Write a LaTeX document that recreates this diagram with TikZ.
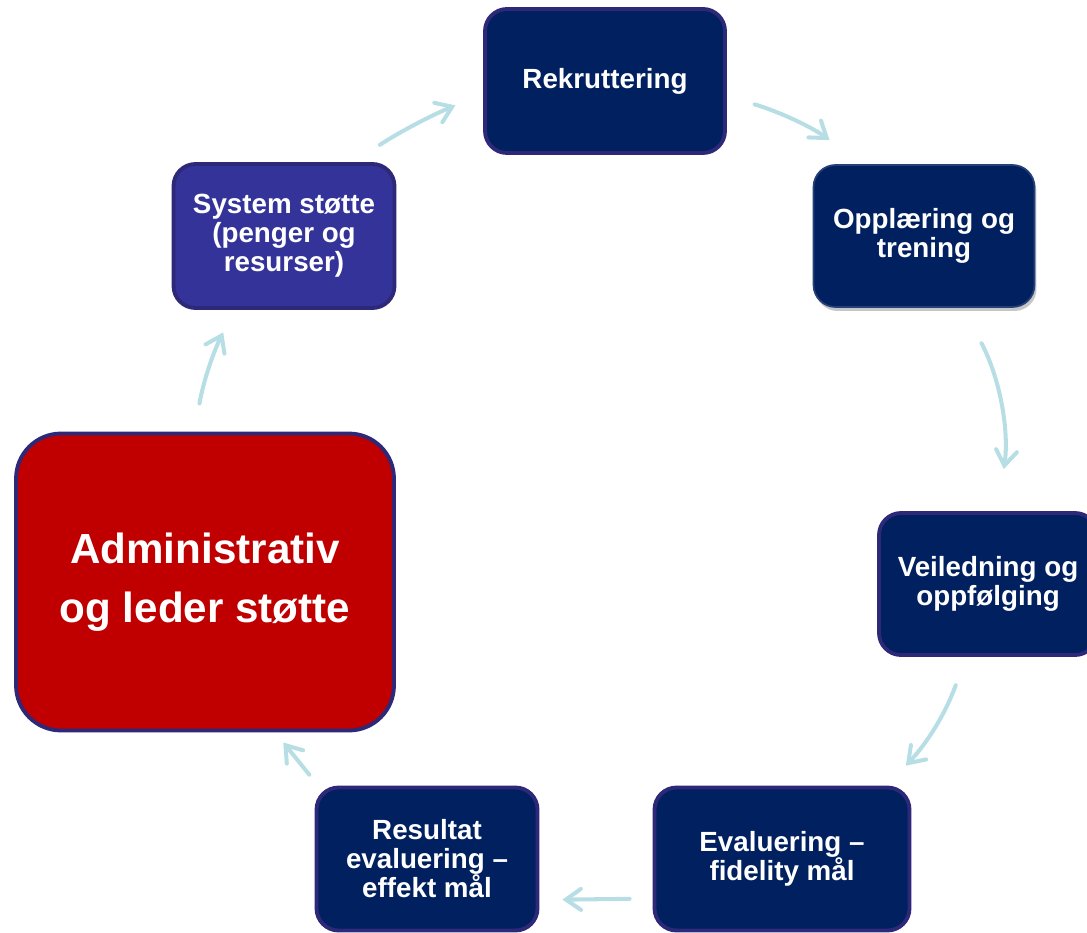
\documentclass[tikz,border=0pt]{standalone}
\usepackage{fontspec}
\setmainfont{Liberation Sans}
\usetikzlibrary{arrows.meta,shadows}
\definecolor{navy}{RGB}{0,32,96}
\definecolor{rim}{RGB}{46,40,120}
\definecolor{sysblue}{RGB}{51,51,153}
\definecolor{admred}{RGB}{192,0,0}
\definecolor{pale}{RGB}{183,222,228}
\tikzset{
  blk/.style={draw=rim, line width=2.2pt, fill=navy, rounded corners=0.44cm,
    text=white, align=center, inner sep=0pt,
    font=\bfseries\fontsize{15.8}{16.5}\selectfont},
  arr/.style={draw=pale, line width=2.3pt, line cap=round,
    -{Straight Barb[length=0.3cm,width=0.42cm,line cap=round]}}
}

\begin{document}
\begin{tikzpicture}[x=0.02cm,y=-0.02cm]
    \useasboundingbox (0,0) rectangle (1087,932);
    \clip (0,0) rectangle (1087,932);
    % boxes, clockwise from the top
    \node[blk, minimum width=4.8cm, minimum height=2.88cm] (rek) at (605,81) {Rekruttering};
    \node[blk, draw=navy!85!white, line width=1pt, minimum width=4.42cm, minimum height=2.84cm,
      drop shadow={shadow xshift=0.04cm, shadow yshift=-0.08cm, opacity=0.45}] (opp) at (924,236) {Opplæring og\\trening};
    \node[blk, minimum width=4.36cm, minimum height=2.84cm] (vei) at (988,584) {Veiledning og\\oppfølging};
    \node[blk, minimum width=5.1cm, minimum height=2.86cm] (eval) at (782,859) {Evaluering –\\fidelity mål};
    \node[blk, minimum width=4.42cm, minimum height=2.86cm] (res) at (427,859) {Resultat\\evaluering –\\effekt mål};
    \node[blk, fill=admred, rounded corners=0.9cm, minimum width=7.56cm, minimum height=5.94cm,
      font=\bfseries\fontsize{24}{33.5}\selectfont] (adm) at (205,582) {Administrativ\\og leder støtte};
    \node[blk, fill=sysblue, minimum width=4.42cm, minimum height=2.88cm] (sys) at (284,236) {System støtte\\(penger og\\resurser)};
    % arrows
    \foreach \a/\b/\bnd/\s/\e in {sys.47/rek.186/5/0.64/0.6, rek.-7/opp.131/10/0.58/0.8,
      opp/vei/18/0.8/0.85, vei.253/eval.35/12/0.6/0.55, eval.197.5/res.340/0/0.46/0.46,
      res.146/adm.295/0/0.28/0.26, adm.94/sys.236/8/0.57/0.5}
      \draw[arr, shorten <=\s cm, shorten >=\e cm] (\a) to[bend left=\bnd] (\b);
\end{tikzpicture}
\end{document}
